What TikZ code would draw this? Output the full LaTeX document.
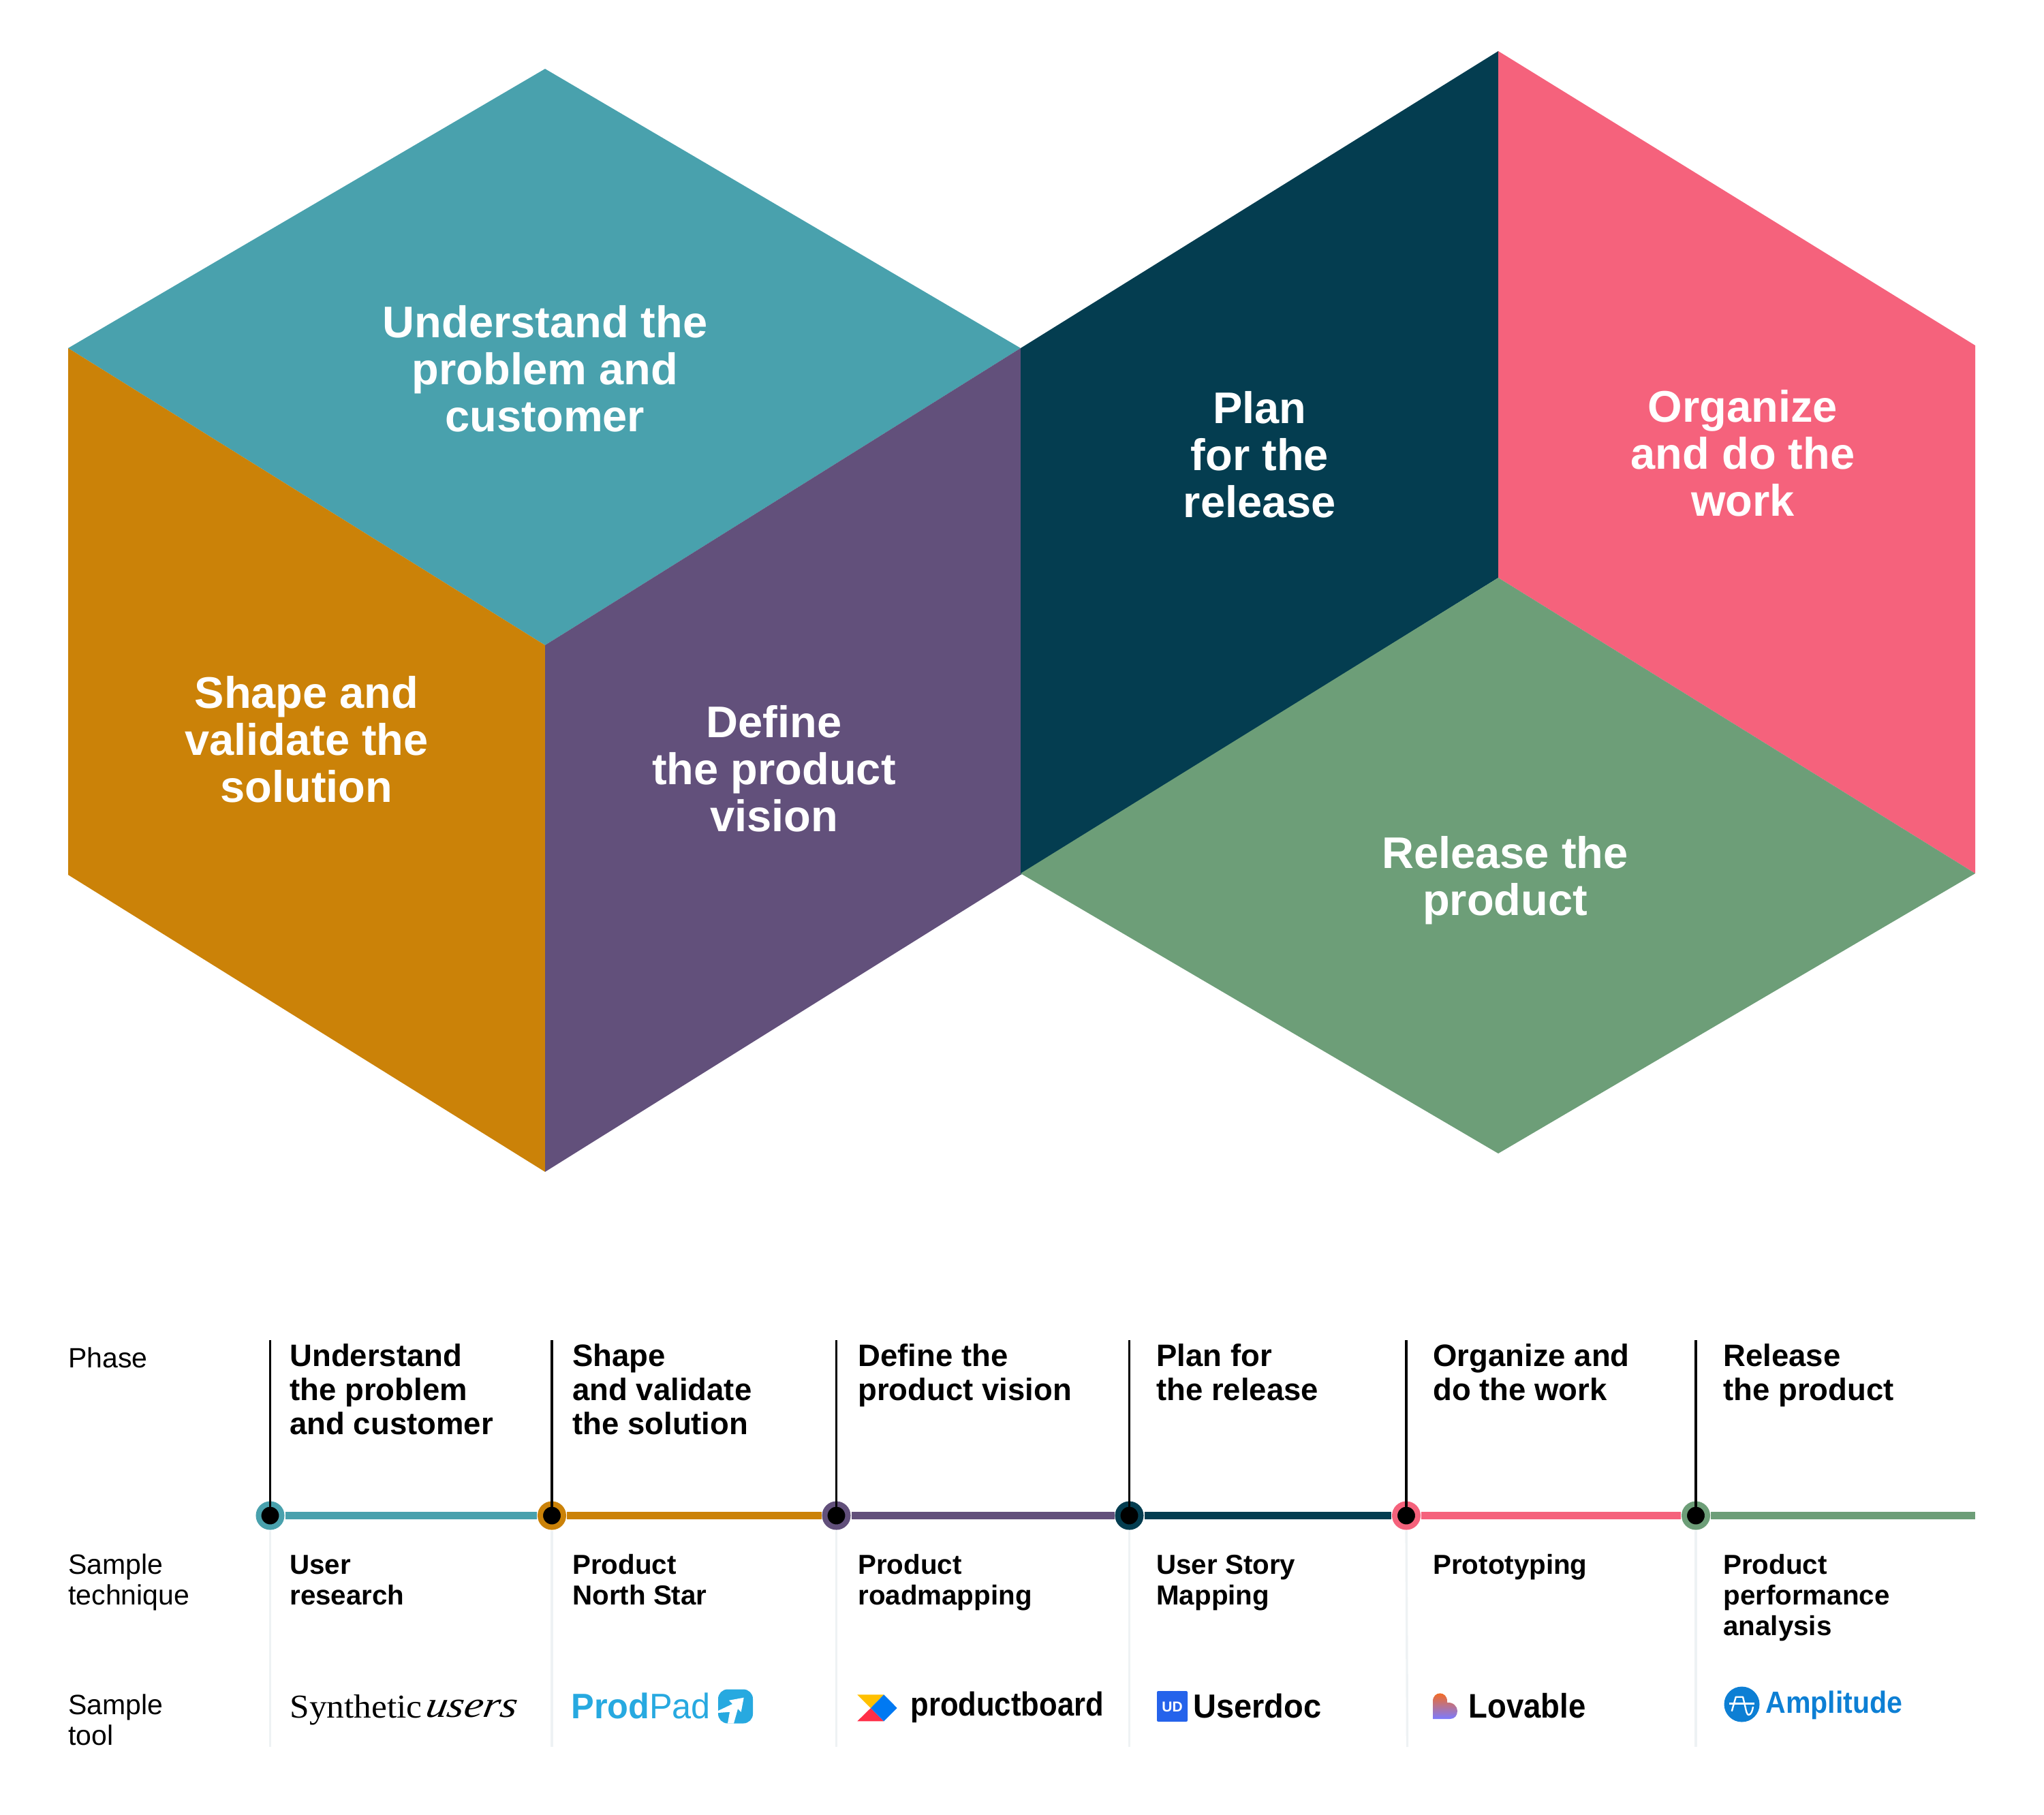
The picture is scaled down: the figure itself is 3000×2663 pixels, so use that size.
\documentclass[tikz,border=0pt]{standalone}
\usepackage{fontspec}
\setmainfont{Liberation Sans}
\newfontfamily\serifface{Liberation Serif}
\newfontfamily\scriptface[FakeSlant=0.15]{Liberation Serif Italic}
\definecolor{cteal}{HTML}{49A1AD}
\definecolor{corange}{HTML}{CB8208}
\definecolor{cpurple}{HTML}{62507B}
\definecolor{cnavy}{HTML}{043D50}
\definecolor{cpink}{HTML}{F5627C}
\definecolor{cgreen}{HTML}{6D9E78}
\definecolor{cgrey}{HTML}{EEF2F4}
\definecolor{cpad}{HTML}{27A9E0}
\definecolor{cud}{HTML}{2563EB}
\definecolor{camp}{HTML}{0D7FD4}
\definecolor{pbyellow}{HTML}{FFC000}
\definecolor{pbblue}{HTML}{0079F2}
\definecolor{pbred}{HTML}{FF2E47}
\definecolor{lovtop}{HTML}{FF6A10}
\definecolor{lovmid}{HTML}{F4506A}
\definecolor{lovbot}{HTML}{7B7BFF}
\newcommand{\pxfont}[2]{\fontsize{\dimexpr#1pt/2\relax}{\dimexpr#2pt/2\relax}\selectfont}
\tikzset{
  x=0.5pt,y=-0.5pt,
  big/.style={anchor=base,align=center,inner sep=0pt,text=white,font=\pxfont{65}{69}\bfseries},
  head/.style={anchor=base west,align=left,inner sep=0pt,font=\pxfont{45.5}{50}\bfseries},
  tech/.style={anchor=base west,align=left,inner sep=0pt,font=\pxfont{40.3}{45}\bfseries},
  side/.style={anchor=base west,align=left,inner sep=0pt,font=\pxfont{41}{45}},
  dot/.style={circle,draw=#1,line width=4pt,fill=black,inner sep=0pt,minimum size=17pt},
  gap/.style={circle,inner sep=0pt,outer sep=0pt,minimum size=22pt},
  seg/.style={line width=5.5pt,draw=#1},
  stem/.style={line width=1.7pt,draw=black},
  rule/.style={line width=1.7pt,draw=cgrey},
  logo/.style={anchor=base west,inner sep=0pt},
}
\begin{document}
\begin{tikzpicture}
\useasboundingbox (0,0) rectangle (3000,2663);
% hexagon faces
\fill[cteal] (800,101) -- (1498,511) -- (800,947) -- (100,511) -- cycle;
\fill[corange] (100,511) -- (800,947) -- (800,1720) -- (100,1284) -- cycle;
\fill[cpurple] (800,947) -- (1498,511) -- (1498,1284) -- (800,1720) -- cycle;
\fill[cnavy] (1498,511) -- (2199,75) -- (2199,848) -- (1498,1284) -- cycle;
\fill[cpink] (2199,75) -- (2899,507) -- (2899,1282) -- (2199,848) -- cycle;
\fill[cgreen] (2199,848) -- (2899,1282) -- (2199,1693) -- (1498,1282) -- cycle;
\node[big] (t1) at (800,633) {Understand the\\problem and\\customer};
\node[big] (t2) at (450,1177.5) {Shape and\\validate the\\solution};
\node[big] (t3) at (1136,1220.5) {Define\\the product\\vision};
\node[big] (t4) at (1849,759.5) {Plan\\for the\\release};
\node[big] (t5) at (2558,757.5) {Organize\\and do the\\work};
\node[big] (t6) at (2209,1343.5) {Release the\\product};
% timeline columns
\coordinate (s1) at (396.5,1967); \coordinate (b1) at (396.5,2564);
\coordinate (s2) at (810,1967);   \coordinate (b2) at (810,2564);
\coordinate (s3) at (1227.5,1967);\coordinate (b3) at (1227.5,2564);
\coordinate (s4) at (1657.5,1967);\coordinate (b4) at (1657.5,2564);
\coordinate (s5) at (2064,1967);  \coordinate (b5) at (2065.5,2564);
\coordinate (s6) at (2489,1967);  \coordinate (b6) at (2489,2564);
\coordinate (lineend) at (2899,2224.5);
\node[gap] (c1) at (396.5,2224.5) {};
\node[gap] (c2) at (810,2224.5) {};
\node[gap] (c3) at (1227.5,2224.5) {};
\node[gap] (c4) at (1657.5,2224.5) {};
\node[gap] (c5) at (2064,2224.5) {};
\node[gap] (c6) at (2489,2224.5) {};
\foreach \i in {1,...,6} {\draw[rule] (c\i) -- (b\i);}
\draw[seg=cteal] (c1) -- (c2);
\draw[seg=corange] (c2) -- (c3);
\draw[seg=cpurple] (c3) -- (c4);
\draw[seg=cnavy] (c4) -- (c5);
\draw[seg=cpink] (c5) -- (c6);
\draw[seg=cgreen] (c6) -- (lineend);
\node[dot=cteal] (d1) at (c1) {};
\node[dot=corange] (d2) at (c2) {};
\node[dot=cpurple] (d3) at (c3) {};
\node[dot=cnavy] (d4) at (c4) {};
\node[dot=cpink] (d5) at (c5) {};
\node[dot=cgreen] (d6) at (c6) {};
\foreach \i in {1,...,6} {\draw[stem] (s\i) -- (d\i.center);}
% row labels
\node[side] (l1) at (100,2007) {Phase};
\node[side] (l2) at (100,2355) {Sample\\technique};
\node[side] (l3) at (100,2561) {Sample\\tool};
% phases
\node[head] (h1) at (425,2105.5) {Understand\\the problem\\and customer};
\node[head] (h2) at (840,2105.5) {Shape\\and validate\\the solution};
\node[head] (h3) at (1259,2055.5) {Define the\\product vision};
\node[head] (h4) at (1697,2055.5) {Plan for\\the release};
\node[head] (h5) at (2103,2055.5) {Organize and\\do the work};
\node[head] (h6) at (2529,2055.5) {Release\\the product};
% techniques
\node[tech] (k1) at (425,2355) {User\\research};
\node[tech] (k2) at (840,2355) {Product\\North Star};
\node[tech] (k3) at (1259,2355) {Product\\roadmapping};
\node[tech] (k4) at (1697,2355) {User Story\\Mapping};
\node[tech] (k5) at (2103,2310) {Prototyping};
\node[tech] (k6) at (2529,2400) {Product\\performance\\analysis};
% tool logos
\node[logo,font=\pxfont{49}{49}\serifface] (o1) at (425,2521) {\scalebox{1.05}[1]{Synthetic}};
\node[logo,font=\pxfont{54}{54}\scriptface] (o1b) at (623,2520) {\scalebox{1.17}[1]{users}};
\node[logo,font=\pxfont{52}{52},text=cpad] (o2) at (838,2522) {\scalebox{0.97}[1]{\textbf{Prod}Pad}};
\fill[cpad,rounded corners=7pt] (1054,2479.5) -- (1105,2479.5) -- (1105,2529.5) -- (1054,2529.5) -- cycle;
\fill[white] (1091.7,2491.7) -- (1070,2495.7) -- (1075,2501) -- (1054,2511) -- (1054,2514) -- (1071,2512.7) -- (1068,2529.5) -- (1077,2529.5) -- (1083,2508) -- (1087.7,2512.7) -- cycle;
\fill[cud,rounded corners=1pt] (1698,2482) rectangle (1743,2527);
\node[inner sep=0pt,text=white,font=\pxfont{21}{21}\bfseries] (o4a) at (1720.5,2505.5) {UD};
\fill[pbyellow] (1258.3,2487.3) -- (1297.3,2487.3) -- (1278,2507) -- cycle;
\fill[pbred] (1278,2507) -- (1297.3,2526.3) -- (1258.3,2526.3) -- cycle;
\fill[pbblue] (1297.3,2487.3) -- (1316.7,2507) -- (1297.3,2526.3) -- (1278,2507) -- cycle;
\node[logo,font=\pxfont{49}{49}\bfseries] (o3) at (1336,2518) {\scalebox{0.89}[1]{productboard}};
\node[logo,font=\pxfont{49}{49}\bfseries] (o4) at (1751,2521.5) {\scalebox{0.96}[1]{Userdoc}};
\shade[top color=lovtop,middle color=lovmid,bottom color=lovbot] (2103,2523) -- (2103,2497) .. controls (2103,2481.5) and (2124,2481.5) .. (2124,2497) -- (2124,2499) .. controls (2133,2498) and (2139,2505) .. (2139,2511) .. controls (2139,2518) and (2135,2523) .. (2128,2523) -- cycle;
\node[logo,font=\pxfont{50}{50}\bfseries] (o5) at (2155,2521) {\scalebox{0.91}[1]{Lovable}};
\fill[camp] (2556.5,2501.5) circle[radius=26];
\draw[white,line width=1.5pt] (2537.7,2500.7) -- (2575,2500.7);
\draw[white,line width=1.2pt,line join=round] (2541.7,2511.7) -- (2547.7,2490.7) -- (2558,2490.7) -- (2561,2503) .. controls (2563,2512) and (2564,2517) .. (2566.5,2517) .. controls (2570,2517) and (2572,2511) .. (2573,2505);
\node[logo,font=\pxfont{45}{45}\bfseries,text=camp] (o6) at (2591,2514) {\scalebox{0.913}[1]{Amplitude}};
\end{tikzpicture}
\end{document}
